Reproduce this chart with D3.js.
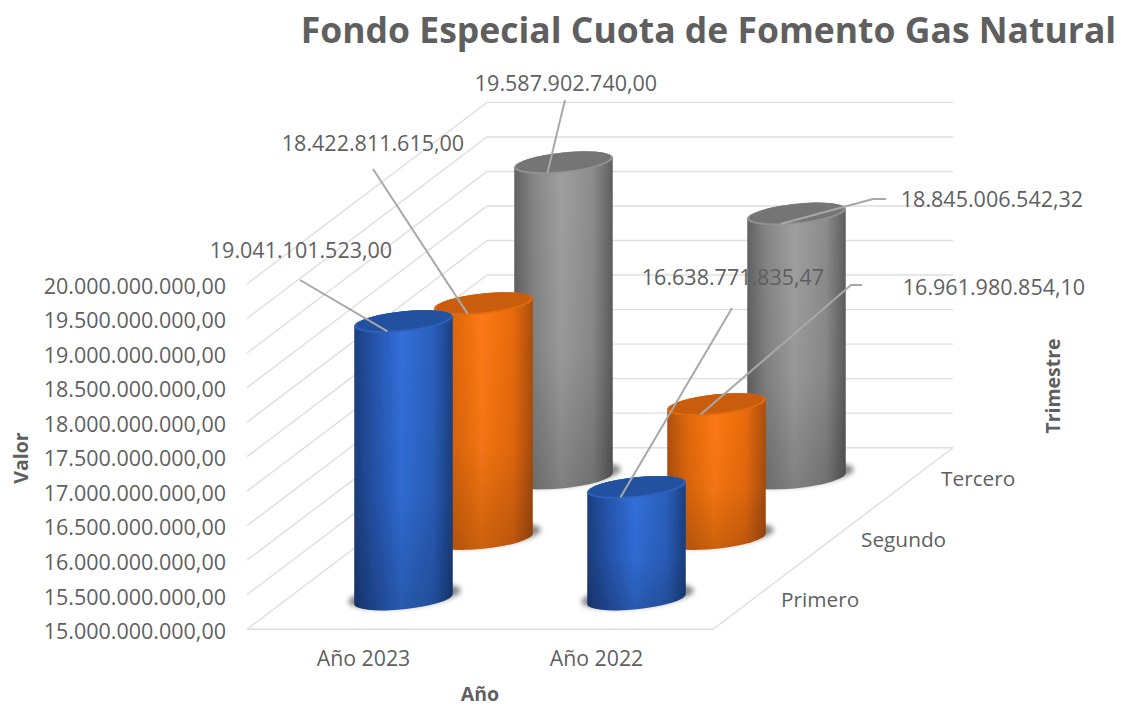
<!DOCTYPE html>
<html><head><meta charset="utf-8">
<script src="https://cdnjs.cloudflare.com/ajax/libs/d3/7.8.5/d3.min.js"></script>
<style>html,body{margin:0;padding:0;background:#fff}svg{display:block}text{font-family:"Open Sans",sans-serif;fill:#5f5f5f}</style>
</head><body><svg id="c" width="1121" height="707"></svg>
<script>
const titleText = "Fondo Especial Cuota de Fomento Gas Natural";
const years = ["Año 2023", "Año 2022"];
const quarters = ["Primero", "Segundo", "Tercero"];
const primero = [19041101523.00, 16638771835.47];
const segundo = [18422811615.00, 16961980854.10];
const tercero = [19587902740.00, 18845006542.32];
const tickValues = [15,15.5,16,16.5,17,17.5,18,18.5,19,19.5,20].map(v => v * 1e9);
const seriesValues = [primero, segundo, tercero];

// annotation layout: label centre and leader path start per [series][year]
const labelLayout = [
  [{x:301,y:250,lx:300,ly:280},{x:733,y:277,lx:732,ly:308}],
  [{x:373,y:143,lx:373,ly:169},{x:994,y:287,lx:862,ly:285,ex:851}],
  [{x:566,y:83,lx:565,ly:100},{x:992,y:199,lx:886,ly:199,ex:873}]
];
const palette = [
  {stops:["#1c3f80","#2654ac","#3270dc","#2b60bd","#1a3f80"],cap:"#24519f",rim:"#2f62bb"},
  {stops:["#b0500a","#e0680c","#ff7a14","#e96b0c","#ab4e08"],cap:"#c95b08",rim:"#e06c10"},
  {stops:["#626262","#868686","#a0a0a0","#8c8c8c","#5e5e5e"],cap:"#757575",rim:"#929292"}
];

const left = 247, right = 713, floorY = 629.3, wallH = 345.3, depthX = 240, depthY = -181.6;
const svg = d3.select("#c");
const x = d3.scaleBand().domain(years).range([left, right]);
const y = d3.scaleLinear().domain([15e9, 20e9]).range([floorY, floorY - wallH]);
const zx = d3.scaleBand().domain(quarters).range([0, depthX]);
const zy = d3.scaleBand().domain(quarters).range([0, depthY]);
const fmt = d3.formatLocale({decimal:",",thousands:".",grouping:[3],currency:["",""]}).format(",.2f");

// defs
const defs = svg.append("defs");
const blur = defs.append("filter").attr("id","blur").attr("x","-30%").attr("y","-80%").attr("width","160%").attr("height","260%");
blur.append("feGaussianBlur").attr("stdDeviation",2.6);
defs.append("filter").attr("id","soft").attr("x","-5%").attr("y","-5%").attr("width","110%").attr("height","110%")
  .append("feGaussianBlur").attr("stdDeviation",0.6);
palette.forEach((p,i)=>{
  const g = defs.append("linearGradient").attr("id","body"+i);
  [0,.2,.48,.8,1].forEach((o,k)=>g.append("stop").attr("offset",o).attr("stop-color",p.stops[k]));
});
const fade = defs.append("linearGradient").attr("id","fade").attr("x1",0).attr("x2",0).attr("y1",0).attr("y2",1);
fade.append("stop").attr("offset",0).attr("stop-color","#000").attr("stop-opacity",0);
fade.append("stop").attr("offset",.6).attr("stop-color","#000").attr("stop-opacity",.05);
fade.append("stop").attr("offset",1).attr("stop-color","#000").attr("stop-opacity",.2);

// walls
const grid = svg.append("g").attr("fill","none").attr("stroke","#dedede").attr("stroke-width",1.4);
tickValues.forEach(v=>{
  const y0 = y(v);
  grid.append("polyline").attr("points",[[left,y0],[left+depthX,y0+depthY],[right+depthX,y0+depthY]].join(" "));
});
grid.append("polyline").attr("points",[[left,floorY],[right,floorY],[right+depthX,floorY+depthY]].join(" "));

// axes
const yAxis = svg.append("g").attr("transform",`translate(${left},0)`)
  .call(d3.axisLeft(y).tickValues(tickValues).tickSize(0).tickPadding(21).tickFormat(fmt));
yAxis.select(".domain").remove();
yAxis.selectAll("text").attr("font-size",21.5).attr("font-family",null).attr("dy","0.43em");
const xAxis = svg.append("g").attr("transform",`translate(0,${floorY})`)
  .call(d3.axisBottom(x).tickSize(0).tickPadding(22));
xAxis.select(".domain").remove();
xAxis.selectAll("text").attr("font-size",21.3).attr("font-family",null);

quarters.forEach(q=>{
  svg.append("text").attr("x",right+zx(q)+zx.bandwidth()/2+28).attr("y",floorY+zy(q)+zy.bandwidth()/2+1)
    .attr("dy","0.35em").attr("font-size",20.8).text(q);
});

// cylinders
const a = 49.5, b = 10.2, rot = -6, th = rot*Math.PI/180;
const t0 = Math.atan2(-b*Math.sin(th), a*Math.cos(th));
const ex = a*Math.cos(t0)*Math.cos(th) - b*Math.sin(t0)*Math.sin(th);
const ey = a*Math.cos(t0)*Math.sin(th) + b*Math.sin(t0)*Math.cos(th);
const bars = [];
seriesValues.forEach((vals,s)=>vals.forEach((v,c)=>bars.push({s,c,v})));
const geom = d=>{
  const cx = x(years[d.c]) + x.bandwidth()/2 + zx(quarters[d.s]) + zx.bandwidth()/2;
  const base = y(15e9) + zy(quarters[d.s]) + zy.bandwidth()/2;
  const top = base - (y(15e9) - y(d.v)) + 1.5;
  return {cx,base,top};
};
const order = bars.slice().sort((p,q)=>q.s-p.s || q.c-p.c);
order.forEach(d=>{
  const {cx,base,top} = geom(d), p = palette[d.s], g = svg.append("g");
  g.append("ellipse").attr("cx",cx+1).attr("cy",base-3).attr("rx",a+7).attr("ry",b+1)
    .attr("transform",`rotate(${rot} ${cx+1} ${base-3})`).attr("fill","#555").attr("opacity",.7).attr("filter","url(#blur)");
  const h = g.append("g").attr("filter","url(#soft)");
  const body = `M${cx-ex},${top-ey}L${cx-ex},${base-ey}A${a},${b} ${rot} 0 0 ${cx+ex},${base+ey}L${cx+ex},${top+ey}A${a},${b} ${rot} 0 0 ${cx-ex},${top-ey}Z`;
  h.append("path").attr("d",body).attr("fill",`url(#body${d.s})`);
  h.append("path").attr("d",body).attr("fill","url(#fade)");
  h.append("ellipse").attr("cx",cx).attr("cy",top).attr("rx",a).attr("ry",b)
    .attr("transform",`rotate(${rot} ${cx} ${top})`).attr("fill",p.rim);
  h.append("ellipse").attr("cx",cx).attr("cy",top-0.8).attr("rx",a-2).attr("ry",b-1)
    .attr("transform",`rotate(${rot} ${cx} ${top-0.8})`).attr("fill",p.cap);
});

// leaders and labels
bars.forEach(d=>{
  const {cx,top} = geom(d), L = labelLayout[d.s][d.c];
  const pts = [[L.lx,L.ly]];
  if (L.ex!==undefined) pts.push([L.ex,L.ly]);
  pts.push([cx-16,top+10]);
  svg.append("polyline").attr("points",pts.join(" ")).attr("fill","none").attr("stroke","#a8a8a8").attr("stroke-width",2);
});
bars.forEach(d=>{
  const L = labelLayout[d.s][d.c];
  svg.append("text").attr("x",L.x).attr("y",L.y).attr("dy","0.35em").attr("text-anchor","middle")
    .attr("font-size",21.5).text(fmt(d.v));
});

// titles
svg.append("text").attr("x",708.5).attr("y",43).attr("text-anchor","middle").attr("font-size",35.5).attr("font-weight",700).text(titleText);
svg.append("text").attr("x",480).attr("y",701).attr("text-anchor","middle").attr("font-size",19.5).attr("font-weight",700).text("Año");
svg.append("text").attr("transform","translate(28,458) rotate(-90)").attr("text-anchor","middle").attr("font-size",19.5).attr("font-weight",700).text("Valor");
svg.append("text").attr("transform","translate(1060,386) rotate(-90)").attr("text-anchor","middle").attr("font-size",19.5).attr("font-weight",700).text("Trimestre");
</script></body></html>
